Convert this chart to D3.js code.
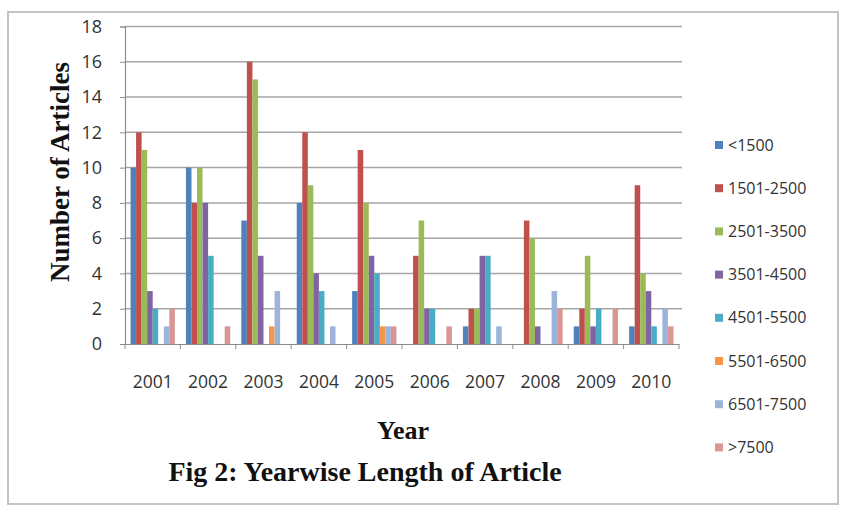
<!DOCTYPE html>
<html>
<head>
<meta charset="utf-8">
<script src="https://cdn.jsdelivr.net/npm/d3@7"></script>
<style>
  html, body { margin: 0; padding: 0; background: #fff; }
  svg { display: block; }
</style>
</head>
<body>
<svg id="chart" width="848" height="515"></svg>
<script>
// Years on the category axis
const years = ["2001","2002","2003","2004","2005","2006","2007","2008","2009","2010"];
// Article length bands (series)
const bands = ["<1500","1501-2500","2501-3500","3501-4500","4501-5500","5501-6500","6501-7500",">7500"];
// Number of articles per year, one array per band
const lt1500    = [10, 10,  7,  8,  3, 0, 1, 0, 1, 1];
const b1501     = [12,  8, 16, 12, 11, 5, 2, 7, 2, 9];
const b2501     = [11, 10, 15,  9,  8, 7, 2, 6, 5, 4];
const b3501     = [ 3,  8,  5,  4,  5, 2, 5, 1, 1, 3];
const b4501     = [ 2,  5,  0,  3,  4, 2, 5, 0, 2, 1];
const b5501     = [ 0,  0,  1,  0,  1, 0, 0, 0, 0, 0];
const b6501     = [ 1,  0,  3,  1,  1, 0, 1, 3, 0, 2];
const gt7500    = [ 2,  1,  0,  0,  1, 1, 0, 2, 2, 1];
const yTicks = [0, 2, 4, 6, 8, 10, 12, 14, 16, 18];

const seriesValues = [lt1500, b1501, b2501, b3501, b4501, b5501, b6501, gt7500];
const colors = ["#4F81BD","#C0504D","#9BBB59","#8064A2","#4BACC6","#F79646","#9DB3DA","#D99694"];

const svg = d3.select("#chart");

// outer frame
svg.append("rect")
  .attr("x", 8).attr("y", 12).attr("width", 830).attr("height", 492)
  .attr("fill", "#fff").attr("stroke", "#c4c4c4").attr("stroke-width", 2);

const plot = { left: 125, right: 679, top: 26.5, bottom: 344 };

const x = d3.scaleBand().domain(years).range([plot.left, plot.right]).paddingInner(0.2).paddingOuter(0.1);
const xs = d3.scaleBand().domain(bands).range([0, x.bandwidth()]);
const y = d3.scaleLinear().domain([0, 18]).range([plot.bottom, plot.top]);

// horizontal gridlines
svg.append("g")
  .selectAll("line")
  .data(yTicks.filter(t => t > 0))
  .join("line")
  .attr("x1", plot.left).attr("x2", plot.right + 3)
  .attr("y1", d => y(d)).attr("y2", d => y(d))
  .attr("stroke", "#a6a6a6").attr("stroke-width", 1.5);

// bars
const groups = svg.append("g")
  .selectAll("g")
  .data(years)
  .join("g")
  .attr("transform", d => `translate(${x(d)},0)`);

groups.selectAll("rect")
  .data((yr, i) => bands.map((b, j) => ({ band: b, value: seriesValues[j][i], color: colors[j] })))
  .join("rect")
  .attr("x", d => xs(d.band))
  .attr("width", xs.bandwidth())
  .attr("y", d => y(d.value))
  .attr("height", d => y(0) - y(d.value))
  .attr("fill", d => d.color);

// y axis
const yAxis = svg.append("g")
  .attr("transform", `translate(${plot.left},0)`)
  .call(d3.axisLeft(y).tickValues(yTicks).tickSize(5).tickPadding(18));
yAxis.select(".domain").attr("stroke", "#8c8c8c").attr("stroke-width", 1.2);
yAxis.selectAll(".tick line").attr("stroke", "#8c8c8c");
yAxis.selectAll("text")
  .attr("font-family", "'Open Sans', sans-serif")
  .attr("font-size", 18).attr("fill", "#333");

// x axis: category labels and tick marks between groups
const xAxis = svg.append("g")
  .attr("transform", `translate(0,${plot.bottom})`)
  .call(d3.axisBottom(x).tickSize(0).tickPadding(32));
xAxis.select(".domain").attr("stroke", "#8c8c8c").attr("stroke-width", 1.2);
xAxis.selectAll("text")
  .attr("font-family", "'Open Sans', sans-serif")
  .attr("font-size", 17.5).attr("fill", "#333");
svg.append("g")
  .selectAll("line")
  .data(d3.range(years.length + 1))
  .join("line")
  .attr("x1", i => plot.left + i * (plot.right - plot.left) / years.length)
  .attr("x2", i => plot.left + i * (plot.right - plot.left) / years.length)
  .attr("y1", plot.bottom).attr("y2", plot.bottom + 5)
  .attr("stroke", "#8c8c8c");

// axis titles
svg.append("text")
  .attr("transform", "translate(69,172) rotate(-90)")
  .attr("text-anchor", "middle")
  .attr("font-family", "'Liberation Serif', serif")
  .attr("font-weight", "bold").attr("font-size", 27).attr("fill", "#111")
  .text("Number of Articles");

svg.append("text")
  .attr("x", 403).attr("y", 439)
  .attr("text-anchor", "middle")
  .attr("font-family", "'Liberation Serif', serif")
  .attr("font-weight", "bold").attr("font-size", 26).attr("fill", "#111")
  .text("Year");

svg.append("text")
  .attr("x", 365).attr("y", 481)
  .attr("text-anchor", "middle")
  .attr("font-family", "'Liberation Serif', serif")
  .attr("font-weight", "bold").attr("font-size", 28).attr("fill", "#111")
  .text("Fig 2: Yearwise Length of Article");

// legend
const legend = svg.append("g")
  .selectAll("g")
  .data(bands)
  .join("g")
  .attr("transform", (d, i) => `translate(715,${145 + i * 43.2})`);
legend.append("rect")
  .attr("x", 0).attr("y", -4).attr("width", 8).attr("height", 8)
  .attr("fill", (d, i) => colors[i]);
legend.append("text")
  .attr("x", 13).attr("y", 0).attr("dy", "0.35em")
  .attr("font-family", "'Open Sans', sans-serif")
  .attr("font-size", 16).attr("fill", "#333")
  .text(d => d);
</script>
</body>
</html>
